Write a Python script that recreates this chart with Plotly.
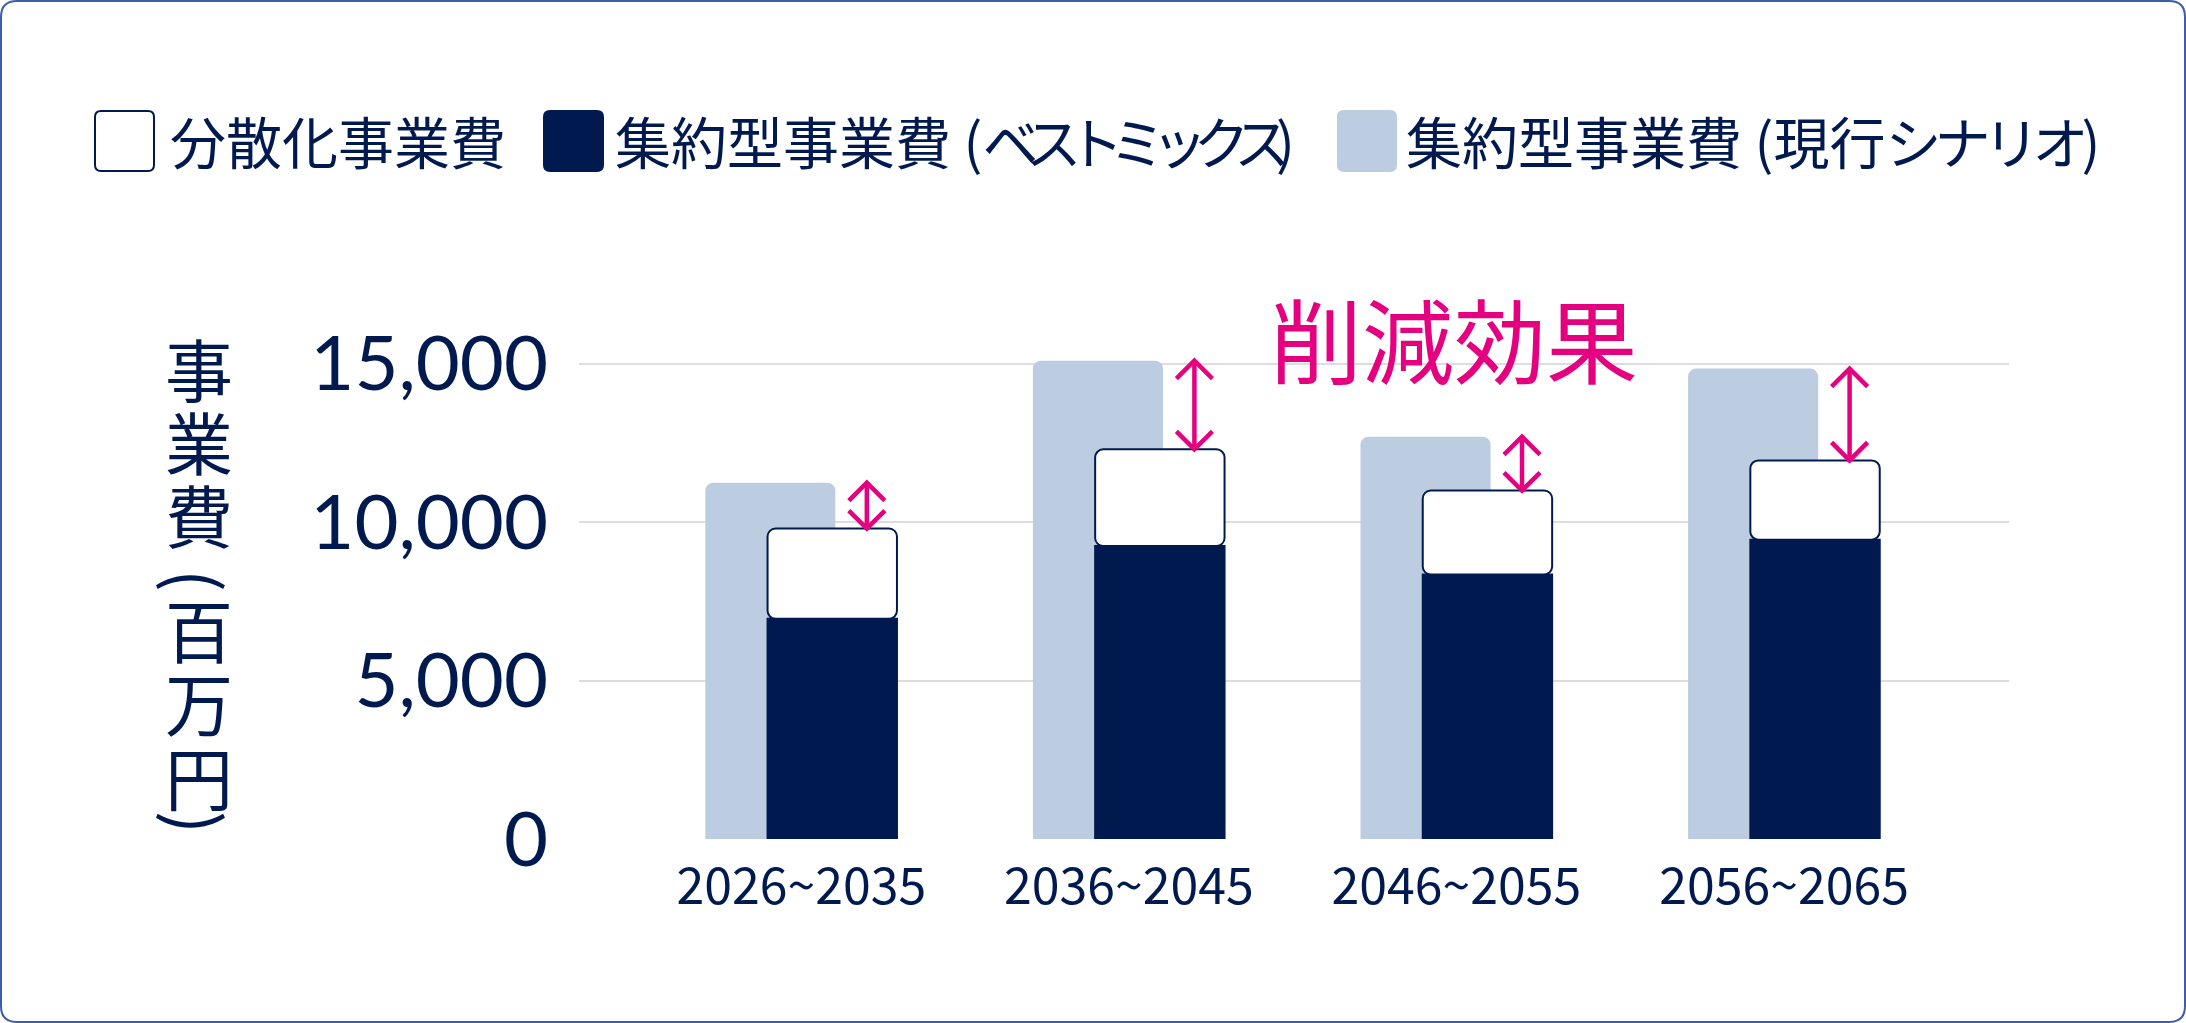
import plotly.graph_objects as go

# ---------------- data ----------------
categories = ["2026~2035", "2036~2045", "2046~2055", "2056~2065"]
current_scenario = [11250, 15100, 12700, 14850]   # 集約型事業費（現行シナリオ）
best_mix = [6950, 9250, 8350, 9450]               # 集約型事業費（ベストミックス）
decentralized = [2850, 3050, 2650, 2500]          # 分散化事業費
y_ticks = [0, 5000, 10000, 15000]
legend_labels = ["分散化事業費", "集約型事業費 (ベストミックス)", "集約型事業費 (現行シナリオ)"]
axis_title_chars = ["事", "業", "費", "(", "百", "万", "円", ")"]
effect_label = "削減効果"

# ---------------- layout geometry ----------------
W, H = 2186, 1023
ML, MR, MT, MB = 579, 177, 348, 184
PW, PH = W - ML - MR, H - MT - MB
X_RANGE = [-0.6786, 3.6866]
Y_RANGE = [0, 15500]

NAVY = "#001A50"
LIGHT = "#BCCDE2"
MAGENTA = "#E4007F"
GRID = "#DCDCE1"
FRAME = "#3D5EAB"
JP = "Noto Sans CJK JP"


def pxx(px):
    return (px - ML) / PW


def pxy(py):
    return (H - MB - py) / PH


def rrect(x0, y0, x1, y1, r):
    def P(x, y):
        return f"{pxx(x):.6f},{pxy(y):.6f}"
    return (f"M{P(x0 + r, y0)} L{P(x1 - r, y0)} Q{P(x1, y0)} {P(x1, y0 + r)} "
            f"L{P(x1, y1 - r)} Q{P(x1, y1)} {P(x1 - r, y1)} L{P(x0 + r, y1)} "
            f"Q{P(x0, y1)} {P(x0, y1 - r)} L{P(x0, y0 + r)} Q{P(x0, y0)} {P(x0 + r, y0)} Z")


xs = list(range(len(categories)))
totals = [b + d for b, d in zip(best_mix, decentralized)]

fig = go.Figure()

# light (current scenario) bars
fig.add_trace(go.Bar(
    x=xs, y=current_scenario, width=0.397, offset=-0.293,
    marker=dict(color=LIGHT, cornerradius=8, line=dict(width=0)),
    name=legend_labels[2], hoverinfo="skip"))
# dark (best mix) bars
fig.add_trace(go.Bar(
    x=xs, y=best_mix, width=0.395, offset=-0.103,
    marker=dict(color=NAVY, cornerradius=0, line=dict(color=NAVY, width=2)),
    name=legend_labels[1], hoverinfo="skip"))
# white (decentralized) bars stacked on top via base
fig.add_trace(go.Bar(
    x=xs, y=decentralized, base=best_mix, width=0.395, offset=-0.103,
    marker=dict(color="white", cornerradius=8, line=dict(color=NAVY, width=2)),
    name=legend_labels[0], hoverinfo="skip"))

# reduction arrows
ux = (X_RANGE[1] - X_RANGE[0]) / PW
uy = (Y_RANGE[1] - Y_RANGE[0]) / PH
dx, dy = 18 * ux, 18 * uy
ax, ay = [], []
for i, (top, bot) in enumerate(zip(current_scenario, totals)):
    x = i + 0.2
    ax += [x, x, None, x - dx, x, x + dx, None, x - dx, x, x + dx, None]
    ay += [bot, top, None, top - dy, top, top - dy, None, bot + dy, bot, bot + dy, None]
fig.add_trace(go.Scatter(x=ax, y=ay, mode="lines",
                         line=dict(color=MAGENTA, width=4.5), hoverinfo="skip"))

shapes = []
annotations = []

# outer frame
shapes.append(dict(type="path", xref="paper", yref="paper",
                   path=rrect(1, 1, W - 1, H - 1, 16),
                   line=dict(color=FRAME, width=2), fillcolor="rgba(0,0,0,0)"))

# custom legend
leg_boxes = [(95, 154, "white"), (544, 603, NAVY), (1338, 1396, LIGHT)]
leg_text_x = [168, 613, 1404]
for (bx0, bx1, col) in leg_boxes:
    shapes.append(dict(type="path", xref="paper", yref="paper",
                       path=rrect(bx0, 111, bx1, 171, 6),
                       line=dict(color=NAVY if col == "white" else col, width=2),
                       fillcolor=col))
legend_texts = [
    legend_labels[0],
    "集約型事業費 (<span style='letter-spacing:-14px'>ベストミックス</span>)",
    "集約型事業費 (現行<span style='letter-spacing:-7px'>シナリオ</span>)",
]
for tx, txt in zip(leg_text_x, legend_texts):
    annotations.append(dict(x=pxx(tx), y=pxy(140), xref="paper", yref="paper",
                            text=txt, showarrow=False, xanchor="left", yanchor="middle",
                            font=dict(family=JP, size=56, color=NAVY)))

# 削減効果
annotations.append(dict(x=pxx(1454), y=pxy(336), xref="paper", yref="paper",
                        text=effect_label, showarrow=False, xanchor="center", yanchor="middle",
                        font=dict(family=JP, size=92, color=MAGENTA)))

# vertical axis title (upright characters; parentheses turned for vertical writing)
title_y = [367, 440, 513, 580, 628, 701, 775, 822]
for ch, cy in zip(axis_title_chars, title_y):
    is_paren = ch in "()"
    annotations.append(dict(x=pxx(199), y=pxy(cy), xref="paper", yref="paper",
                            text=ch, showarrow=False, xanchor="center", yanchor="middle",
                            textangle=90 if is_paren else 0,
                            font=dict(family=JP, size=68, color=NAVY)))

fig.update_layout(
    width=W, height=H,
    margin=dict(l=ML, r=MR, t=MT, b=MB, pad=0),
    paper_bgcolor="white", plot_bgcolor="white",
    barmode="overlay", showlegend=False,
    shapes=shapes, annotations=annotations,
    xaxis=dict(range=X_RANGE, tickvals=xs, ticktext=categories, showgrid=False,
               zeroline=False, showline=False, ticks="", ticklabelstandoff=14,
               tickfont=dict(family=JP, size=50, color=NAVY), fixedrange=True),
    yaxis=dict(range=Y_RANGE, tickvals=y_ticks, tickformat=",", showgrid=True,
               gridcolor=GRID, gridwidth=2, zeroline=False, showline=False, ticks="",
               ticklabelstandoff=30,
               tickfont=dict(family="Lato", size=76, color=NAVY), fixedrange=True),
)

fig.write_html("out.html", config={"displayModeBar": False})
